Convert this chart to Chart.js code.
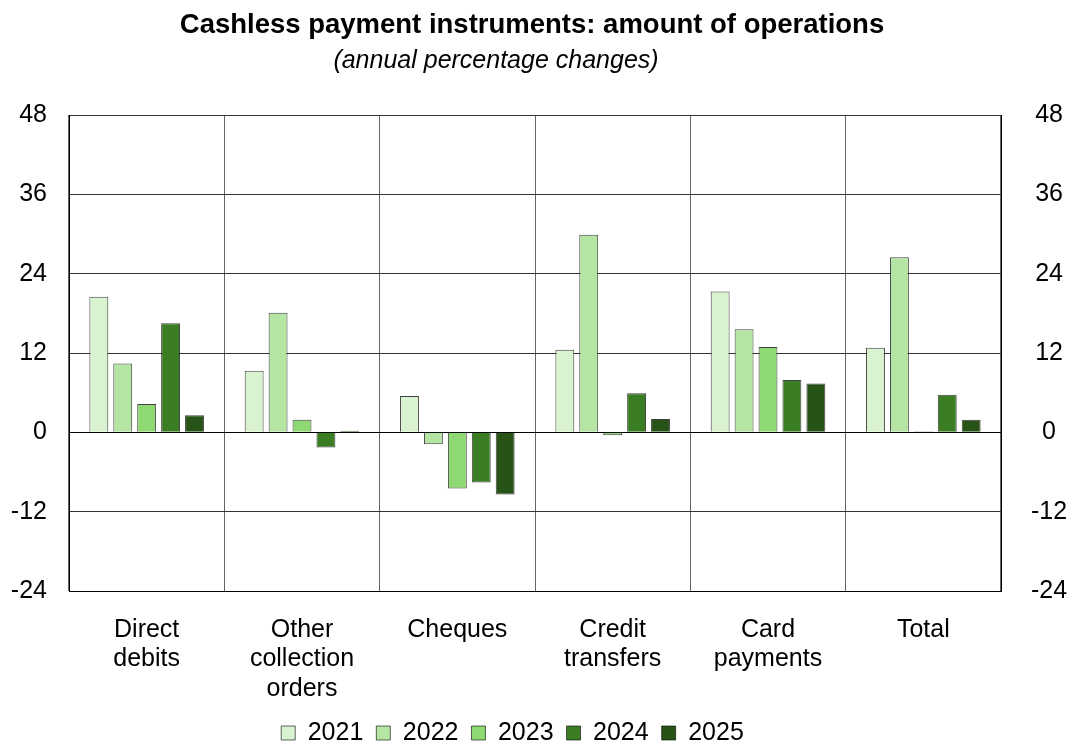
<!DOCTYPE html>
<html>
<head>
<meta charset="utf-8">
<script src="https://cdn.jsdelivr.net/npm/chart.js@4"></script>
<style>
  html, body { margin: 0; padding: 0; background: #fff; }
  #wrap { width: 1079px; height: 747px; }
</style>
</head>
<body>
<div id="wrap"><canvas id="chart" width="1079" height="747"></canvas></div>
<script>
const categories = [["Direct", "debits"], ["Other", "collection", "orders"], "Cheques", ["Credit", "transfers"], ["Card", "payments"], "Total"];
const years = ["2021", "2022", "2023", "2024", "2025"];
const colors = ["#d9f2d0", "#b5e5a2", "#8fd972", "#3b7d23", "#275317"];

const values2021 = [20.5, 9.3, 5.5, 12.5, 21.3, 12.8];
const values2022 = [10.4, 18.1, -1.8, 29.9, 15.6, 26.5];
const values2023 = [4.3, 1.9, -8.5, -0.45, 12.9, 0.15];
const values2024 = [16.5, -2.3, -7.6, 5.9, 7.9, 5.7];
const values2025 = [2.6, 0.25, -9.4, 2.0, 7.4, 1.9];
const allValues = [values2021, values2022, values2023, values2024, values2025];

const yTicks = [48, 36, 24, 12, 0, -12, -24];

const FONT = "'Liberation Sans', Arial, sans-serif";

/* TITLE (drawn by hand so subtitle can sit off-centre like the original) */
const titlePlugin = {
  id: "titles",
  afterDraw(chart) {
    const ctx = chart.ctx;
    ctx.save();
    ctx.fillStyle = "#000";
    ctx.textAlign = "center";
    ctx.textBaseline = "middle";
    ctx.font = "bold 27.5px " + FONT;
    ctx.fillText("Cashless payment instruments: amount of operations", 532, 25);
    ctx.font = "italic 25px " + FONT;
    ctx.fillText("(annual percentage changes)", 496, 61);
    ctx.restore();
  }
};

const datasets = years.map((y, i) => ({
  label: y,
  data: allValues[i],
  backgroundColor: colors[i],
  borderColor: "rgba(0,0,0,0.75)",
  borderWidth: 1,
  categoryPercentage: 0.77,
  barPercentage: 0.79
}));

new Chart(document.getElementById("chart"), {
  type: "bar",
  data: { labels: categories, datasets },
  plugins: [titlePlugin],
  options: {
    responsive: false,
    animation: false,
    // negative paddings: push legend row down and shift its centre left like the original
    layout: { padding: { top: 115, left: -54, right: 0, bottom: -8.5 } },
    plugins: {
      legend: {
        position: "bottom",
        labels: {
          color: "#000",
          font: { family: FONT, size: 25 },
          boxWidth: 14,
          boxHeight: 14,
          padding: 13,
          generateLabels(chart) {
            return chart.data.datasets.map((d, i) => ({
              text: d.label,
              fillStyle: d.backgroundColor,
              strokeStyle: "rgba(0,0,0,0.6)",
              lineWidth: 1,
              datasetIndex: i,
              hidden: false
            }));
          }
        }
      },
      tooltip: { enabled: false }
    },
    scales: {
      x: {
        grid: { color: "#666", lineWidth: 1, drawTicks: false, offset: true },
        border: { color: "#000" },
        ticks: {
          color: "#000",
          font: { family: FONT, size: 25, lineHeight: 1.18 },
          padding: 24,
          maxRotation: 0,
          autoSkip: false
        },
        afterFit(s) { s.height = 116.5; }
      },
      y: {
        position: "left",
        min: -24, max: 48,
        grid: {
          drawTicks: false,
          lineWidth: 1,
          color: ctx => ctx.tick && ctx.tick.value === 0 ? "#000" : "#333"
        },
        border: { color: "#000" },
        afterBuildTicks(s) { s.ticks = yTicks.map(v => ({ value: v })); },
        ticks: { color: "#000", font: { family: FONT, size: 25 }, padding: 22 },
        afterFit(s) { s.width = 123; }
      },
      y2: {
        position: "right",
        min: -24, max: 48,
        grid: { display: false, drawTicks: false },
        border: { color: "#000" },
        afterBuildTicks(s) { s.ticks = yTicks.map(v => ({ value: v })); },
        ticks: { color: "#000", font: { family: FONT, size: 25 }, padding: 30, crossAlign: "center" },
        afterFit(s) { s.width = 78; }
      }
    }
  }
});
</script>
</body>
</html>
